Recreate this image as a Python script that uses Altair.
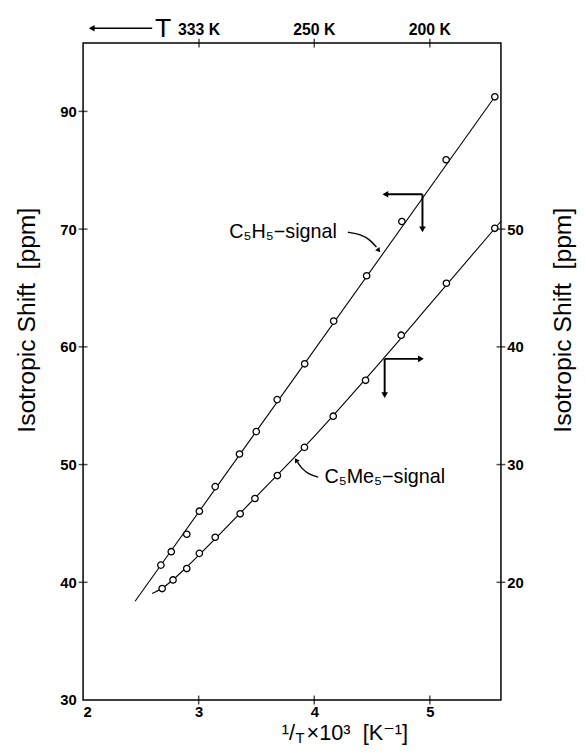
import altair as alt
import pandas as pd

# ---------------- data ----------------
# 1/T x 10^3 [K^-1]
c5h5_x = [2.673, 2.763, 2.897, 3.006, 3.143, 3.353, 3.498, 3.679, 3.917, 4.168, 4.453, 4.758, 5.141, 5.562]
# isotropic shift, left axis [ppm]
c5h5_y = [41.46, 42.60, 44.08, 46.04, 48.13, 50.90, 52.80, 55.52, 58.56, 62.19, 66.04, 70.65, 75.89, 81.24]
c5me5_x = [2.684, 2.778, 2.897, 3.006, 3.143, 3.359, 3.487, 3.681, 3.915, 4.164, 4.444, 4.752, 5.143, 5.562]
# isotropic shift, right axis [ppm]
c5me5_y = [19.47, 20.20, 21.17, 22.46, 23.83, 25.82, 27.12, 29.07, 31.46, 34.11, 37.16, 40.99, 45.40, 50.07]

# drawn fit lines
c5h5_fit_x = [2.45, 5.562]
c5h5_fit_y = [38.39, 81.24]
c5me5_fit_x = [2.598, 2.684, 2.897, 3.006, 3.5, 4.0, 4.5, 5.0, 5.615]
c5me5_fit_y = [19.05, 19.5, 21.3, 22.35, 27.3, 32.4, 37.9, 43.6, 50.67]

# axes
x_tick_values = [2, 3, 4, 5]
left_tick_values = [30, 40, 50, 60, 70, 80]
left_tick_labels = ["30", "40", "50", "60", "70", "90"]
right_tick_values = [20, 30, 40, 50]
top_tick_values = [1000 / 333, 4.0, 5.0]
top_tick_labels = ["333\u00a0K", "250\u00a0K", "200\u00a0K"]

# annotations
labels_text = ["C\u2085H\u2085\u2212signal", "C\u2085Me\u2085\u2212signal"]
labels_x = [3.265, 4.088]
labels_y = [69.73, 48.94]

h5_curve_x = [4.291, 4.402, 4.487, 4.538]
h5_curve_y = [69.73, 69.56, 69.06, 68.47]
me5_curve_x = [4.034, 3.949, 3.889, 3.855]
me5_curve_y = [48.94, 49.20, 49.70, 50.20]

# L-shaped axis pointers: corner, horizontal end, vertical end
h5_corner = (4.936, 72.96)
h5_hend = 4.615
h5_vend = 69.98
me5_corner = (4.609, 58.98)
me5_hend = 4.923
me5_vend = 55.90

# ---------------- layout ----------------
W, H = 423, 665
XDOM = [2.0, 5.615]
LDOM = [30.0, 85.8]
RDOM = [10.0, 65.8]
TXT = "Liberation Sans, DejaVu Sans, sans-serif"
NUM = "Liberation Sans, DejaVu Sans, sans-serif"
YTITLE = "Isotropic Shift\u00a0 [ppm]"

xscale = alt.Scale(domain=XDOM, nice=False, zero=False)
lscale = alt.Scale(domain=LDOM, nice=False, zero=False)
rscale = alt.Scale(domain=RDOM, nice=False, zero=False)

x_axis = alt.Axis(values=x_tick_values, ticks=False, domain=False, grid=False,
                  labelPadding=5, labelFont=NUM, labelFontSize=15, labelFontWeight="bold",
                  labelColor="black", title=None, format="d")

left_expr = " : ".join(
    [f"datum.value == {v} ? '{l}'" for v, l in zip(left_tick_values, left_tick_labels)]
) + " : datum.label"
left_axis = alt.Axis(values=left_tick_values, labelExpr=left_expr, ticks=False, domain=False,
                     grid=False, labelPadding=7, labelFont=NUM, labelFontSize=15,
                     labelFontWeight="bold", labelColor="black",
                     title=YTITLE, titleFont=TXT, titleFontSize=25,
                     titleFontWeight="normal", titleColor="black", titleAngle=270,
                     titleX=-57, titleY=280, titleAlign="center", titleBaseline="middle")
right_axis = alt.Axis(orient="right", values=right_tick_values, ticks=False, domain=False,
                      grid=False, labelPadding=6, labelFont=NUM, labelFontSize=15,
                      labelFontWeight="bold", labelColor="black",
                      title=YTITLE, titleFont=TXT, titleFontSize=25,
                      titleFontWeight="normal", titleColor="black", titleAngle=270,
                      titleX=62, titleY=280, titleAlign="center", titleBaseline="middle")

X = lambda f="x": alt.X(f"{f}:Q", scale=xscale, axis=x_axis)
YL = lambda f="y": alt.Y(f"{f}:Q", scale=lscale, axis=left_axis)
YR = lambda f="y": alt.Y(f"{f}:Q", scale=rscale, axis=right_axis)

# ---------------- left-axis layer ----------------
df_h5 = pd.DataFrame({"x": c5h5_x, "y": c5h5_y})
df_h5_fit = pd.DataFrame({"x": c5h5_fit_x, "y": c5h5_fit_y})

h5_line = alt.Chart(df_h5_fit).mark_line(color="black", strokeWidth=1.1).encode(x=X(), y=YL())
h5_pts = alt.Chart(df_h5).mark_point(shape="circle", filled=True, fill="white", stroke="black",
                                     strokeWidth=1.3, size=42, opacity=1).encode(x=X(), y=YL())

left_ticks = alt.Chart(pd.DataFrame({"y": left_tick_values[1:]})).mark_tick(
    orient="horizontal", color="black", size=9, thickness=1.5).encode(x=alt.value(0), y=YL())
bottom_ticks = alt.Chart(pd.DataFrame({"x": x_tick_values[1:]})).mark_tick(
    orient="vertical", color="black", size=9, thickness=1.5).encode(x=X(), y=alt.value(H))
top_ticks = alt.Chart(pd.DataFrame({"x": top_tick_values})).mark_tick(
    orient="vertical", color="black", size=9, thickness=1.5).encode(x=X(), y=alt.value(0))
top_labels = alt.Chart(pd.DataFrame({"x": top_tick_values, "t": top_tick_labels})).mark_text(
    font=NUM, fontSize=16, fontWeight="bold", baseline="bottom", align="center", color="black"
).encode(x=X(), y=alt.value(-5), text="t:N")

# top-left "<--- T"
top_arrow = alt.Chart(pd.DataFrame({"x": [2.085], "x2": [2.598]})).mark_rule(
    color="black", strokeWidth=1.6).encode(x=X(), x2="x2:Q", y=alt.value(-15))
top_arrow_head = alt.Chart(pd.DataFrame({"x": [2.075]})).mark_point(
    shape="triangle-left", filled=True, color="black", size=45, opacity=1).encode(x=X(), y=alt.value(-15))
top_T = alt.Chart(pd.DataFrame({"x": [2.692], "t": ["T"]})).mark_text(
    font=TXT, fontSize=27, fontWeight="normal", baseline="middle", align="center", color="black"
).encode(x=X(), y=alt.value(-14), text="t:N")

# signal labels
df_lab = pd.DataFrame({"x": labels_x, "y": labels_y, "t": labels_text})
lab_text = alt.Chart(df_lab).mark_text(font=TXT, fontSize=20, align="left", baseline="middle",
                                       color="black").encode(x=X(), y=YL(), text="t:N")

df_curves = pd.DataFrame({
    "x": h5_curve_x + me5_curve_x,
    "y": h5_curve_y + me5_curve_y,
    "g": ["a"] * len(h5_curve_x) + ["b"] * len(me5_curve_x),
    "o": list(range(len(h5_curve_x))) + list(range(len(me5_curve_x))),
})
curves = alt.Chart(df_curves).mark_line(color="black", strokeWidth=1.4, interpolate="basis").encode(
    x=X(), y=YL(), detail="g:N", order="o:Q")
curve_heads = alt.Chart(pd.DataFrame({
    "x": [h5_curve_x[-1] + 0.02, me5_curve_x[-1] - 0.012],
    "y": [h5_curve_y[-1] - 0.28, me5_curve_y[-1] + 0.18],
    "a": [53, 236],
})).mark_point(shape="triangle-right", filled=True, color="black", size=30, opacity=1).encode(
    x=X(), y=YL(), angle=alt.Angle("a:Q", scale=None))

# L pointers
df_h = pd.DataFrame({"x": [h5_corner[0], me5_corner[0]], "x2": [h5_hend, me5_hend],
                     "y": [h5_corner[1], me5_corner[1]]})
df_v = pd.DataFrame({"x": [h5_corner[0], me5_corner[0]], "y": [h5_corner[1], me5_corner[1]],
                     "y2": [h5_vend, me5_vend]})
ptr_h = alt.Chart(df_h).mark_rule(color="black", strokeWidth=2).encode(x=X(), x2="x2:Q", y=YL())
ptr_v = alt.Chart(df_v).mark_rule(color="black", strokeWidth=2).encode(x=X(), y=YL(), y2="y2:Q")
df_heads = pd.DataFrame({
    "x": [h5_hend, h5_corner[0], me5_hend, me5_corner[0]],
    "y": [h5_corner[1], h5_vend, me5_corner[1], me5_vend],
    "s": ["triangle-left", "triangle-down", "triangle-right", "triangle-down"],
})
ptr_heads = alt.Chart(df_heads).mark_point(filled=True, color="black", size=45, opacity=1).encode(
    x=X(), y=YL(), shape=alt.Shape("s:N", scale=None))

# x-axis title built from pieces (1/T with subscript T)
xt = alt.Chart(pd.DataFrame({"x": [3.718, 3.933],
                             "t": ["\u00b9/", "\u00d710\u00b3\u00a0 [K\u207b\u00b9]"]})).mark_text(
    font=TXT, fontSize=22, align="left", baseline="alphabetic", color="black"
).encode(x=X(), y=alt.value(705), text="t:N")
xt_sub = alt.Chart(pd.DataFrame({"x": [3.838], "t": ["T"]})).mark_text(
    font=TXT, fontSize=15, align="left", baseline="alphabetic", color="black"
).encode(x=X(), y=alt.value(708), text="t:N")

left_layer = alt.layer(h5_line, h5_pts, left_ticks, bottom_ticks, top_ticks, top_labels,
                       top_arrow, top_arrow_head, top_T, lab_text, curves, curve_heads,
                       ptr_h, ptr_v, ptr_heads, xt, xt_sub)

# ---------------- right-axis layer ----------------
df_me5 = pd.DataFrame({"x": c5me5_x, "y": c5me5_y})
df_me5_fit = pd.DataFrame({"x": c5me5_fit_x, "y": c5me5_fit_y})
me5_line = alt.Chart(df_me5_fit).mark_line(color="black", strokeWidth=1.1, interpolate="monotone").encode(
    x=X(), y=YR())
me5_pts = alt.Chart(df_me5).mark_point(shape="circle", filled=True, fill="white", stroke="black",
                                       strokeWidth=1.3, size=42, opacity=1).encode(x=X(), y=YR())
right_ticks = alt.Chart(pd.DataFrame({"y": right_tick_values})).mark_tick(
    orient="horizontal", color="black", size=9, thickness=1.5).encode(x=alt.value(W), y=YR())

right_layer = alt.layer(me5_line, me5_pts, right_ticks)

chart = alt.layer(left_layer, right_layer).resolve_scale(y="independent").properties(
    width=W, height=H,
    padding={"left": 76, "top": 31, "right": 78, "bottom": 44},
    autosize=alt.AutoSizeParams(type="none"),
    background="white",
).configure_view(stroke="black", strokeWidth=1.5)

chart.save("out.html", embed_options={"renderer": "svg", "actions": False})
